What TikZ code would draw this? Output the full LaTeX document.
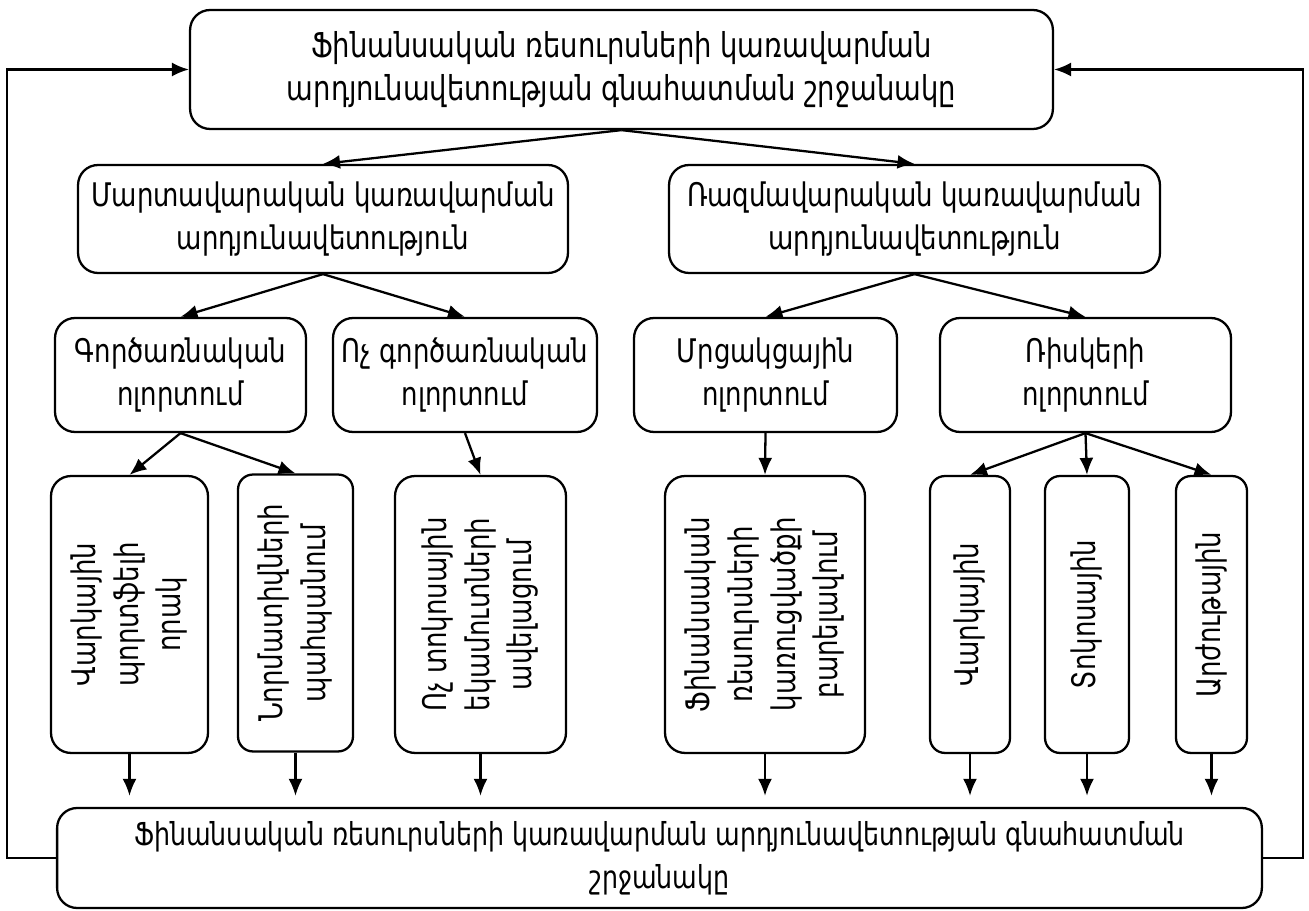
\documentclass[tikz,border=0pt]{standalone}
\usepackage{fontspec}
\usepackage{graphicx}
\setmainfont{DejaVu Sans}[Script=Armenian, FakeStretch=0.8]
\usetikzlibrary{arrows.meta}
\newcommand\uptext[1]{\rotatebox{90}{\begin{tabular}{@{}c@{}}#1\end{tabular}}}
\tikzset{every path/.style={line width=1.3pt}, >={Latex[length=3.4mm,width=2.8mm]},
  box/.style={draw, line width=1.3pt, rounded corners=0.4cm, align=center, inner sep=0pt, font=\fontsize{18.5}{24.4}\selectfont},
  tallbox/.style={box, minimum height=5.54cm}}

\begin{document}
\begin{tikzpicture}[x=0.02cm, y=-0.02cm, line width=1.3pt]
  \useasboundingbox (0,0) rectangle (1309,911);
  \node[box, minimum width=17.26cm, minimum height=2.38cm, font=\fontsize{19.5}{24.4}\selectfont] (top) at (621.5,69.5) {Ֆինանսական ռեսուրսների կառավարման\\արդյունավետության գնահատման շրջանակը};
  \node[box, minimum width=9.8cm, minimum height=2.16cm] (tact) at (323,219) {Մարտավարական կառավարման\\արդյունավետություն};
  \node[box, minimum width=9.82cm, minimum height=2.16cm] (strat) at (914.5,219) {Ռազմավարական կառավարման\\արդյունավետություն};
  \node[box, minimum width=5.02cm, minimum height=2.28cm] (oper) at (180.5,375) {Գործառնական\\ոլորտում};
  \node[box, minimum width=5.28cm, minimum height=2.28cm] (nonoper) at (465,375) {Ոչ գործառնական\\ոլորտում};
  \node[box, minimum width=5.26cm, minimum height=2.28cm] (compet) at (765.5,375) {Մրցակցային\\ոլորտում};
  \node[box, minimum width=5.82cm, minimum height=2.28cm] (risk) at (1085.5,375) {Ռիսկերի\\ոլորտում};
  \node[tallbox, minimum width=3.14cm] (loans) at (129.5,614.5) {\uptext{Վարկային\\պորտֆելի\\որակ}};
  \node[tallbox, minimum width=2.3cm, rounded corners=0.3cm] (norms) at (295.5,613) {\uptext{Նորմատիվների\\պահպանում}};
  \node[tallbox, minimum width=3.42cm] (income) at (480.5,614.5) {\uptext{Ոչ տոկոսային\\եկամուտների\\ավելացում}};
  \node[tallbox, minimum width=4.0cm] (struct) at (765,614.5) {\uptext{Ֆինանսական\\ռեսուրսների\\կառուցվածքի\\բարելավում}};
  \node[tallbox, minimum width=1.6cm, rounded corners=0.3cm] (credit) at (970,614.5) {\uptext{Վարկային}};
  \node[tallbox, minimum width=1.68cm, rounded corners=0.3cm] (interest) at (1087,614.5) {\uptext{Տոկոսային}};
  \node[tallbox, minimum width=1.42cm, rounded corners=0.3cm] (currency) at (1211.5,614.5) {\uptext{Արժութային}};
  \node[box, minimum width=24.1cm, minimum height=2.0cm, font=\fontsize{18}{24.4}\selectfont] (bottom) at (659.5,858) {Ֆինանսական ռեսուրսների կառավարման արդյունավետության գնահատման\\շրջանակը};

  % tree
  \draw[->] (top.south) -- (tact.north);
  \draw[->] (top.south) -- (strat.north);
  \draw[->] (tact.south) -- (oper.north);
  \draw[->] (tact.south) -- (nonoper.north);
  \draw[->] (strat.south) -- (compet.north);
  \draw[->] (strat.south) -- (risk.north);
  \draw[->] (oper.south) -- (loans.north);
  \draw[->] (oper.south) -- (norms.north);
  \draw[->] (nonoper.south) -- (income.north);
  \draw[->] (compet.south) -- (struct.north);
  \draw[->] (risk.south) -- (credit.north);
  \draw[->] (risk.south) -- (interest.north);
  \draw[->] (risk.south) -- (currency.north);
  \foreach \n in {loans,norms,income,struct,credit,interest,currency}
    \draw[->, shorten >=0.22cm] (\n.south) -- (\n.south |- bottom.north);

  % feedback
  \draw[->] (bottom.west) -- ++(-49,0) |- (top.west);
  \draw[->] (bottom.east) -- ++(40,0) |- (top.east);
\end{tikzpicture}
\end{document}
